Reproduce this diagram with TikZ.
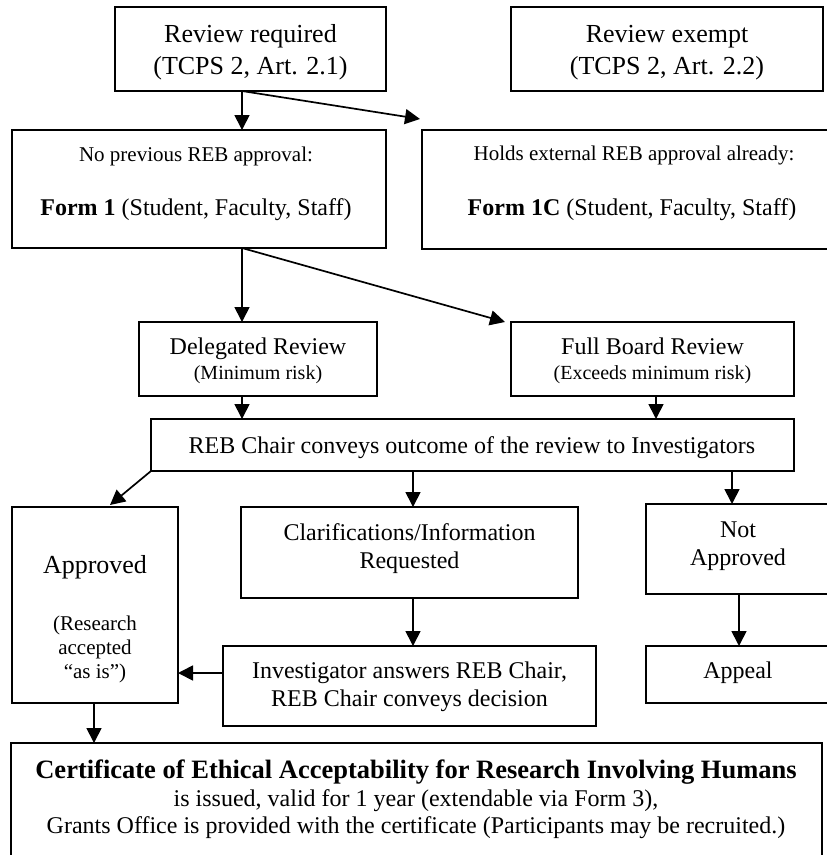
\documentclass[tikz,border=0pt]{standalone}
\usepackage{fontspec}
\setmainfont{Liberation Serif}
\usetikzlibrary{arrows.meta,calc}
\begin{document}
\begin{tikzpicture}[x=1pt,y=-1pt,
  box/.style={draw, line width=2pt, inner sep=0pt, outer sep=0pt, anchor=north west},
  arr/.style={line width=1.7pt, -{Triangle[length=15pt,width=15pt]}},
  txt/.style={anchor=base, inner sep=0pt},
  fA/.style={font=\fontsize{26}{30}\selectfont},
  fB/.style={font=\fontsize{24}{28}\selectfont},
  fC/.style={font=\fontsize{21}{24}\selectfont},
  fD/.style={font=\fontsize{20}{24}\selectfont},
  fE/.style={font=\fontsize{26.5}{30}\selectfont\bfseries},
]
\useasboundingbox (0,0) rectangle (827,855);
\fill[white] (0,0) rectangle (827,855);
\clip (0,0) rectangle (827,855);

% boxes
\node[box, minimum width=271pt, minimum height=84pt]  (rr)   at (115,7)   {};
\node[box, minimum width=312pt, minimum height=84pt]  (re)   at (511,7)   {};
\node[box, minimum width=374pt, minimum height=118pt] (f1)   at (12,130)  {};
\node[box, minimum width=422pt, minimum height=119pt] (f1c)  at (422,130) {};
\node[box, minimum width=238pt, minimum height=74pt]  (del)  at (139,322) {};
\node[box, minimum width=283pt, minimum height=74pt]  (fb)   at (511,322) {};
\node[box, minimum width=643pt, minimum height=52pt]  (reb)  at (151,419) {};
\node[box, minimum width=166pt, minimum height=196pt] (app)  at (12,507)  {};
\node[box, minimum width=337pt, minimum height=91pt]  (clar) at (241,507) {};
\node[box, minimum width=184pt, minimum height=90pt]  (nap)  at (646,504) {};
\node[box, minimum width=373pt, minimum height=80pt]  (inv)  at (223,646) {};
\node[box, minimum width=184pt, minimum height=57pt]  (apl)  at (646,646) {};
\node[box, minimum width=811pt, minimum height=130pt] (cert) at (11,743)  {};

% texts
\node[txt, fA] (rr1) at (250.5,42.5) {Review required};
\node[txt, fA] (rr2) at (250.5,74.5) {(TCPS 2, Art. 2.1)};
\node[txt, fA] (re1) at (667,42.5) {Review exempt};
\node[txt, fA] (re2) at (667,74.5) {(TCPS 2, Art. 2.2)};
\node[txt, fC] (f1a) at (196,161) {No previous REB approval:};
\node[txt, fB] (f1b) at (196,215) {\textbf{Form 1} (Student, Faculty, Staff)};
\node[txt, fC] (f1ca) at (634,160) {Holds external REB approval already:};
\node[txt, fB] (f1cb) at (632,215) {\textbf{Form 1C} (Student, Faculty, Staff)};
\node[txt, fB] (dela) at (258,354) {Delegated Review};
\node[txt, fD] (delb) at (258,379) {(Minimum risk)};
\node[txt, fB] (fba) at (652.5,354) {Full Board Review};
\node[txt, fD] (fbb) at (652.5,379) {(Exceeds minimum risk)};
\node[txt, fB] (rebt) at (472,453) {REB Chair conveys outcome of the review to Investigators};
\node[txt, fA] (appa) at (95,573) {Approved};
\node[txt, fC] (appb) at (95,630) {(Research};
\node[txt, fC] (appc) at (95,654) {accepted};
\node[txt, fC] (appd) at (95,678) {“as is”)};
\node[txt, fB] (clara) at (409.5,540) {Clarifications/Information};
\node[txt, fB] (clarb) at (409.5,568) {Requested};
\node[txt, fB] (napa) at (738,537) {Not};
\node[txt, fB] (napb) at (738,565) {Approved};
\node[txt, fB] (aplt) at (738,678) {Appeal};
\node[txt, fB] (inva) at (409.5,678) {Investigator answers REB Chair,};
\node[txt, fB] (invb) at (409.5,706) {REB Chair conveys decision};
\node[txt, fE] (certa) at (416,778) {Certificate of Ethical Acceptability for Research Involving Humans};
\node[txt, fB] (certb) at (416,806) {is issued, valid for 1 year (extendable via Form 3),};
\node[txt, fB] (certc) at (416,833) {Grants Office is provided with the certificate (Participants may be recruited.)};

% guide coordinates
\coordinate (x242) at (242,0);
\coordinate (x656) at (656,0);
\coordinate (x413) at (413,0);
\coordinate (x732) at (732,0);
\coordinate (x739) at (739,0);
\coordinate (x94)  at (94,0);
\coordinate (y673) at (0,673);

% connectors
\draw[arr] (rr.south -| x242) -- (f1.north -| x242);
\draw[arr] (rr.south -| x242) -- ($(f1c.north west)+(-2,-11)$);
\draw[arr] (f1.south -| x242) -- (del.north -| x242);
\draw[arr] (f1.south -| x242) -- ($(fb.north west)+(-6,0)$);
\draw[arr] (del.south -| x242) -- (reb.north -| x242);
\draw[arr] (fb.south -| x656) -- (reb.north -| x656);
\draw[arr] (reb.south west) -- ($(app.north west)+(98,-2)$);
\draw[arr] (reb.south -| x413) -- (clar.north -| x413);
\draw[arr] (reb.south -| x732) -- (nap.north -| x732);
\draw[arr] (clar.south -| x413) -- (inv.north -| x413);
\draw[arr] (inv.west |- y673) -- (app.east |- y673);
\draw[arr] (nap.south -| x739) -- (apl.north -| x739);
\draw[arr] (app.south -| x94) -- (cert.north -| x94);
\end{tikzpicture}
\end{document}
